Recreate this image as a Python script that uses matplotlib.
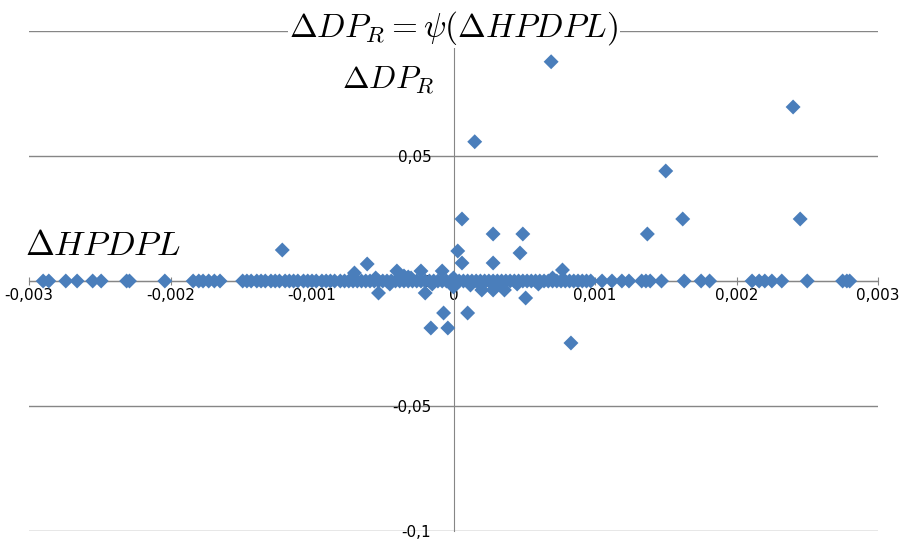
import numpy as np
import matplotlib
matplotlib.use("Agg")
from matplotlib import pyplot as plt

plt.rcParams["mathtext.fontset"] = "cm"

# points lying on the zero line (dP_R = 0)
zero_x = [-0.0029, -0.00286, -0.00274, -0.00266, -0.00255, -0.00249, -0.00231,
          -0.00229, -0.00204, -0.00184, -0.0018, -0.00177, -0.00173, -0.00169,
          -0.00165,
          -0.00149, -0.00146, -0.00143, -0.00139, -0.00136, -0.00133, -0.00129,
          -0.00126, -0.00123, -0.00119, -0.00116, -0.00113, -0.0011, -0.00106,
          -0.00103, -0.001, -0.00097, -0.00093, -0.0009, -0.00087, -0.00084,
          -0.0008, -0.00077, -0.00074, -0.00071, -0.00068, -0.00065, -0.00062,
          -0.00059, -0.00056, -0.00053, -0.0005, -0.00047, -0.00044, -0.00041,
          -0.00038, -0.00035, -0.00032, -0.00029, -0.00026, -0.00023, -0.0002,
          -0.00017, -0.00014, -0.00011, -0.00008, -0.00005, -0.00002, 0.00001,
          0.00004, 0.00007, 0.0001, 0.00013, 0.00016, 0.00019, 0.00022, 0.00025,
          0.00028, 0.00031, 0.00034, 0.00037, 0.0004, 0.00043, 0.00046, 0.00049,
          0.00052, 0.00055, 0.00058, 0.00061, 0.00064, 0.00067, 0.0007, 0.00073,
          0.00076, 0.00079, 0.00082, 0.00085, 0.00088, 0.00091, 0.00094, 0.00097,
          0.00105, 0.00112, 0.00119, 0.00124, 0.00133, 0.00136, 0.00139, 0.00147,
          0.00163, 0.00175, 0.00181, 0.00211, 0.00216, 0.0022, 0.00225, 0.00232,
          0.0025, 0.00275, 0.00278, 0.0028]

# points close to the zero line (thicker band in the middle)
near_x = [-0.00055, -0.00045, -0.0003, -0.00015, 0.0, 0.00012, 0.0002, 0.00033,
          0.00045, 0.0006, 0.0007]
near_y = [0.0012, -0.0012, 0.0012, -0.0012, 0.0012, -0.0016, -0.0016, -0.0016,
          -0.0012, -0.0012, 0.0012]

# scattered points
out_x = [0.00069, 0.0024, 0.00015, 0.0015, 0.00162, 0.00245, 0.00137, -0.00121,
         0.00006, 0.00028, 0.00049, 0.00003, 0.00047, 0.00006, 0.00028, 0.00077,
         -0.00061, -0.0007, -0.0004, -0.00023, -0.00008, -0.00035, -0.00032,
         -0.00053, -0.0002, 0.0, -0.00007, -0.00016, -0.00004, 0.0001, 0.00051,
         0.00083, 0.0002, 0.00028, 0.00036]
out_y = [0.0877, 0.0696, 0.0557, 0.044, 0.0248, 0.0248, 0.0188, 0.0124,
         0.0248, 0.0188, 0.0188, 0.012, 0.0112, 0.0072, 0.0072, 0.0044,
         0.0068, 0.0032, 0.004, 0.004, 0.004, 0.002, 0.0016,
         -0.0048, -0.0048, -0.0024, -0.0128, -0.0188, -0.0188, -0.0128, -0.0068,
         -0.0248, -0.0036, -0.0036, -0.0036]

x_ticks = [-0.003, -0.002, -0.001, 0, 0.001, 0.002, 0.003]
x_labels = ["-0,003", "-0,002", "-0,001", "0", "0,001", "0,002", "0,003"]
y_ticks = [-0.1, -0.05, 0, 0.05, 0.1]
y_labels = ["-0,1", "-0,05", "0", "0,05", ""]

blue = "#4a7ebb"
grey = "#868686"

fig = plt.figure(figsize=(8.99, 5.4), dpi=100)
ax = fig.add_axes([29 / 899, 9 / 540, 849 / 899, 500 / 540])

x = np.concatenate([zero_x, near_x, out_x])
y = np.concatenate([np.zeros(len(zero_x)), near_y, out_y])
ax.scatter(x, y, marker="D", s=58, color=blue, edgecolors="none", zorder=2.2)

ax.set_xlim(-0.003, 0.003)
ax.set_ylim(-0.1, 0.1)
for yt in y_ticks:
    ax.axhline(yt, color=grey, lw=1, zorder=1)

ax.spines["left"].set_position(("data", 0))
ax.spines["bottom"].set_position(("data", 0))
ax.spines["top"].set_visible(False)
ax.spines["right"].set_visible(False)
for s in ("left", "bottom"):
    ax.spines[s].set_color(grey)
    ax.spines[s].set_zorder(2)

ax.set_xticks(x_ticks)
ax.set_xticklabels(x_labels)
ax.set_yticks(y_ticks)
ax.set_yticklabels(y_labels)
ax.tick_params(axis="x", direction="inout", length=6, color=grey,
               labelsize=11, pad=2)
ax.tick_params(axis="y", length=0, labelsize=11, pad=16)

fig.text(0.505, 0.948, r"$\Delta DP_R = \psi(\Delta HPDPL)$", fontsize=24,
         ha="center", va="center",
         bbox=dict(facecolor="white", edgecolor="none", pad=1))
fig.text(0.432, 0.852, r"$\Delta DP_R$", fontsize=23, ha="center", va="center")
fig.text(0.114, 0.546, r"$\Delta HPDPL$", fontsize=25, ha="center",
         va="center")

fig.savefig("out.png", dpi=100)
